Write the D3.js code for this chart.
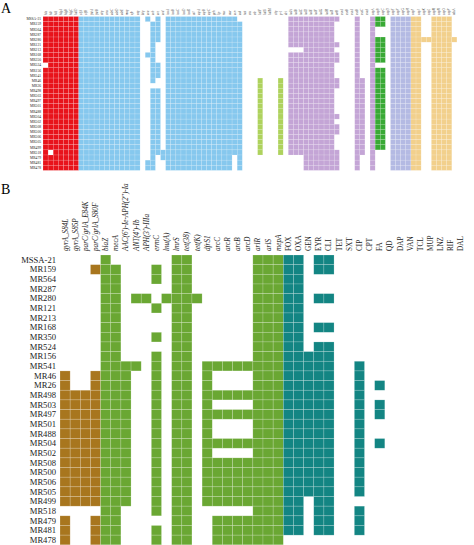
<!DOCTYPE html>
<html><head><meta charset="utf-8">
<script src="https://cdn.jsdelivr.net/npm/d3@7"></script>
<style>body{margin:0;background:#fff}svg{display:block}</style>
</head><body>
<script>
const strains = ["MSSA-21","MR159","MR564","MR287","MR280","MR121","MR213","MR168","MR350","MR524","MR156","MR541","MR46","MR26","MR498","MR503","MR497","MR501","MR488","MR504","MR502","MR508","MR500","MR506","MR505","MR499","MR518","MR479","MR481","MR478"];

// Panel A column labels (tiny, approximate)
const colsA = ["hla","hlb","hld","hlgA","hlgB","hlgC","lukD","clfA","clfB","fnbA","fnbB","ebp","cna","sdrC","sdrD","sdrE","map","efb","eap","bbp","sea","seb","sec","sed","icaA","icaB","icaC","icaD","icaR","atl","sspA","sspB","sspC","geh","lip","nuc","aur","scn","sak","tsst","eta","etb","lukF","lukS","lukM","chp","pvl","sbi","isdA","isdB","isdC","isdD","isdE","isdF","isdG","isdH","isdI","srtB","esxA","esxB","essA","essB","essC","esaA","capA","capB","capC","capD","capE","capF","capG","capH","capI","capJ","capK","capL","capM","capN","capO","capP","adsA"];
// blocks: [colStart, colEnd, rowStart, rowEnd, colorKey]
const blocksA = [
 [0,0,0,8,"r"],[0,0,10,29,"r"],[1,1,0,25,"r"],[1,1,27,29,"r"],[2,6,0,29,"r"],
 [7,18,0,29,"b"],[20,20,0,0,"b"],[20,20,7,7,"b"],[20,20,28,29,"b"],
 [21,21,1,12,"b"],[21,21,14,29,"b"],[22,22,0,4,"b"],[22,22,9,11,"b"],[22,22,14,26,"b"],[23,23,26,27,"b"],
 [24,36,0,29,"b"],[37,37,0,26,"b"],[38,38,1,29,"b"],
 [42,42,12,26,"l"],[46,46,12,26,"l"],
 [48,50,0,5,"p"],[48,50,7,26,"p"],[51,56,0,29,"p"],
 [57,57,0,0,"p"],[57,57,5,5,"p"],[57,57,7,8,"p"],[57,57,12,13,"p"],[57,57,19,19,"p"],[57,57,21,22,"p"],[57,57,26,29,"p"],
 [61,61,0,29,"p"],[62,62,12,26,"p"],[64,64,0,29,"p"],
 [65,66,0,1,"g"],[65,66,4,8,"g"],[65,66,10,25,"g"],
 [68,71,0,29,"v"],[72,73,0,29,"t"],[74,75,4,4,"t"],[76,79,0,29,"t"],[80,80,4,4,"t"]
];
const colorsA = {r:"#e8131b",b:"#86c8ee",l:"#aed25d",p:"#c4a5d6",g:"#39a935",v:"#b4bae3",t:"#f2d08c"};

// Panel B
const colsB = ["gyrA_S84L","gyrA_S85P","parC/grlA_E84K","parC/grlA_S80F","blaZ","mecA","AAC(6')-Ie-APH(2'')-Ia","ANT(4')-Ib","APH(3')-IIIa","ermC","lnu(A)","lmrS","tet(38)","tet(K)","dfrS1","arcC","arcR","arcB","arcD","arlR","arlS","mepA","FOX","OXA","GEN","EYR","CLI","TET","SXT","CIP","CPT","FA","QD","DAP","VAN","TCL","MUP","LNZ","RIF","DAL"];
const groupB = ["mut","mut","mut","mut","gene","gene","gene","gene","gene","gene","gene","gene","gene","gene","gene","gene","gene","gene","gene","gene","gene","gene","ph","ph","ph","ph","ph","ph","ph","ph","ph","ph","ph","ph","ph","ph","ph","ph","ph","ph"];
const mutB = ["0000","0001","0000","0000","0000","0000","0000","0000","0000","0000","0000","0000","1001","1001","1111","1111","1111","1111","1111","1111","1111","1111","1111","1111","1111","1111","0000","1001","1001","1001"];
const genesB = ["100000011000000111","110001011000000111","110001011000000111","110000011000000111","110110111100000111","110001011000000111","110000011000000111","110000011000000111","110001011000000111","110000011000000111","110001011000000111","111101011011111111","111001011010000111","111001011010000111","111001011011111111","111001011010000111","111001011011111111","111001011010000111","111001011010000111","111001011011111111","111001011010000111","111001011011111111","111001011011111111","111001011011111111","111001011011111111","111001011011111111","110001011000000111","110000011001111111","110001011001111111","110001011001111111"];
const phenoB = ["110110000000000000","110110000000000000","110000000000000000","110000000000000000","110110000000000000","110000000000000000","110000000000000000","110110000000000000","110000000000000000","110110000000000000","111110000000000000","111110010000000000","111110010000000000","111110010100000000","111110010000000000","111110010100000000","111110010100000000","111110010000000000","111110010000000000","111110010100000000","111110010000000000","111110010000000000","111110010000000000","111110010000000000","111110010000000000","110110000000000000","110110010000000000","110110010000000000","110110010000000000","000000000000000000"];
const colorsB = {mut:"#a8761e",gene:"#6aa733",ph:"#138583"};

const W=474,H=545;
const svg=d3.select("body").append("svg").attr("width",W).attr("height",H);
const serif="'Liberation Serif','Times New Roman',serif";

// Panel A
const xA=d3.scaleBand().domain(d3.range(colsA.length)).range([43,43+81*5.11]);
const yA=d3.scaleBand().domain(d3.range(strains.length)).range([16.5,16.5+30*5.13]);
const gA=svg.append("g");
blocksA.forEach(([c0,c1,r0,r1,k])=>{
  for(let c=c0;c<=c1;c++)for(let r=r0;r<=r1;r++)
    gA.append("rect").attr("x",xA(c)).attr("y",yA(r)).attr("width",xA.bandwidth()).attr("height",yA.bandwidth())
      .attr("fill",colorsA[k]).attr("stroke","#fff").attr("stroke-opacity",0.35).attr("stroke-width",0.4);
});
gA.selectAll("text.rl").data(strains).join("text").attr("x",41).attr("y",(d,i)=>yA(i)+yA.bandwidth()/2+1.2)
  .attr("text-anchor","end").attr("font-size",3.6).attr("font-family",serif).attr("fill","#222").text(d=>d);
gA.selectAll("text.cl").data(colsA).join("text")
  .attr("transform",(d,i)=>`translate(${xA(i)+xA.bandwidth()/2+1},15) rotate(-90)`)
  .attr("font-size",3.2).attr("font-style","italic").attr("font-family",serif).attr("fill","#444").text(d=>d);
svg.append("text").attr("x",1).attr("y",13).attr("font-size",14).attr("font-family",serif).text("A");

// Panel B
const xB=d3.scaleBand().domain(d3.range(colsB.length)).range([60,60+40*10.15]);
const yB=d3.scaleBand().domain(d3.range(strains.length)).range([255,255+30*9.66]);
const gB=svg.append("g");
strains.forEach((s,r)=>{
  const row=mutB[r]+genesB[r]+phenoB[r];
  for(let c=0;c<colsB.length;c++) if(row[c]==="1")
    gB.append("rect").attr("x",xB(c)).attr("y",yB(r)).attr("width",xB.bandwidth()).attr("height",yB.bandwidth())
      .attr("fill",colorsB[groupB[c]]).attr("stroke","#fff").attr("stroke-opacity",0.3).attr("stroke-width",0.6);
});
gB.selectAll("text.rl").data(strains).join("text").attr("x",56).attr("y",(d,i)=>yB(i)+yB.bandwidth()/2+3)
  .attr("text-anchor","end").attr("font-size",8.6).attr("font-family",serif).attr("fill","#222").text(d=>d);
gB.selectAll("text.cl").data(colsB).join("text")
  .attr("transform",(d,i)=>`translate(${xB(i)+xB.bandwidth()/2+2.5},251) rotate(-90)`)
  .attr("font-size",7.2).attr("font-style",(d,i)=>groupB[i]==="ph"?"normal":"italic").attr("font-family",serif).attr("fill","#222").text(d=>d);
svg.append("text").attr("x",1).attr("y",194).attr("font-size",14).attr("font-family",serif).text("B");
</script>
</body></html>
